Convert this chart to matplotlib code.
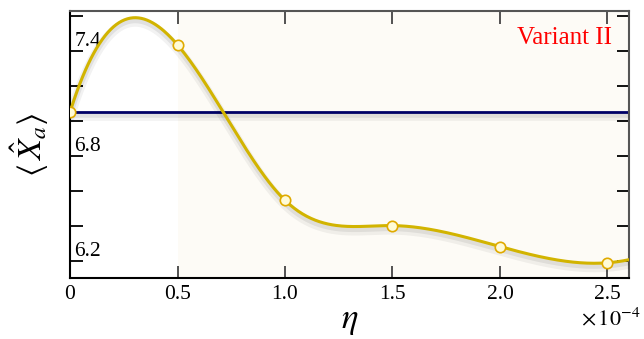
import numpy as np
import matplotlib
matplotlib.use("Agg")
import matplotlib.pyplot as plt
import matplotlib.patheffects as pe
from matplotlib.ticker import FuncFormatter, FixedLocator

# data (eta in units of 1e-4)
eta = np.array([0.0, 0.5, 1.0, 1.5, 2.0, 2.5])
X_a = np.array([7.05, 7.435, 6.545, 6.40, 6.28, 6.187])
reference_level = 7.05
ytick_vals = [6.2, 6.4, 6.6, 6.8, 7.0, 7.2, 7.4, 7.6]
ytick_labeled = [6.2, 6.8, 7.4]
xtick_vals = [0.0, 0.5, 1.0, 1.5, 2.0, 2.5]
scale = 1e-4


def spline(x, y, xs):
    # cubic spline, not-a-knot ends
    n = len(x)
    h = np.diff(x)
    A = np.zeros((n, n))
    b = np.zeros(n)
    for i in range(1, n - 1):
        A[i, i - 1] = h[i - 1]
        A[i, i] = 2 * (h[i - 1] + h[i])
        A[i, i + 1] = h[i]
        b[i] = 6 * ((y[i + 1] - y[i]) / h[i] - (y[i] - y[i - 1]) / h[i - 1])
    A[0, 0], A[0, 1], A[0, 2] = h[1], -(h[0] + h[1]), h[0]
    A[-1, -3], A[-1, -2], A[-1, -1] = h[-1], -(h[-2] + h[-1]), h[-2]
    M = np.linalg.solve(A, b)
    idx = np.clip(np.searchsorted(x, xs) - 1, 0, n - 2)
    t = xs - x[idx]
    hi = h[idx]
    slope = (y[idx + 1] - y[idx]) / hi - hi * (2 * M[idx] + M[idx + 1]) / 6
    return y[idx] + slope * t + M[idx] / 2 * t**2 + (M[idx + 1] - M[idx]) / (6 * hi) * t**3


plt.rcParams['font.family'] = ['Liberation Serif', 'DejaVu Serif']
plt.rcParams['mathtext.fontset'] = 'stix'

fig = plt.figure(figsize=(6.44, 3.39), dpi=100)
ax = fig.add_axes([0.1087, 0.18, 0.868, 0.788])

xmax = 2.6
ax.axvspan(0.5 * scale, xmax * scale, color='#fdfbf6', zorder=0, lw=0)

# soft drop shadow under the lines
shadow = [pe.SimpleLineShadow(offset=(0, -3), alpha=0.05, shadow_color='k', linewidth=7),
          pe.SimpleLineShadow(offset=(0, -2), alpha=0.07, shadow_color='k', linewidth=4),
          pe.Normal()]

ax.axhline(reference_level, color='#000066', lw=2, zorder=2, path_effects=shadow)

xs = np.linspace(0, xmax, 400)
ax.plot(xs * scale, spline(eta, X_a, xs), color='#d2b400', lw=2.2, zorder=3, path_effects=shadow)
ax.plot(eta * scale, X_a, 'o', ms=7.5, mfc='#fffbd6', mec='#e0aa00', mew=1.2, zorder=4)

ax.set_xlim(0, xmax * scale)
ax.set_ylim(6.1, 7.63)

ax.xaxis.set_major_locator(FixedLocator([v * scale for v in xtick_vals]))
fmt = FuncFormatter(lambda v, p: '0' if abs(v) < 1e-12 else '%.1f' % (v / scale))
fmt.set_offset_string(r'$\times\,10^{-4}$')
ax.xaxis.set_major_formatter(fmt)
ax.yaxis.set_major_locator(FixedLocator(ytick_vals))
ax.yaxis.set_major_formatter(FuncFormatter(
    lambda v, p: '%.1f' % v if any(abs(v - t) < 1e-6 for t in ytick_labeled) else ''))

ax.tick_params(axis='both', direction='in', length=9, width=1.3, labelsize=15.5, colors='#444444',
               labelcolor='black', top=True, right=True)
ax.tick_params(axis='y', which='both', left=True, color='black')
ax.tick_params(axis='x', pad=5)
ax.tick_params(axis='y', pad=-3)
for lab in ax.get_yticklabels():
    lab.set_horizontalalignment('left')
    lab.set_verticalalignment('bottom')
off = ax.xaxis.get_offset_text()
off.set_fontsize(16)
off.set_x(1.02)

for side in ['left', 'bottom']:
    ax.spines[side].set_color('black')
    ax.spines[side].set_linewidth(1.5)
for side in ['top', 'right']:
    ax.spines[side].set_color('#555555')
    ax.spines[side].set_linewidth(1.5)

ax.set_xlabel(r'$\eta$', fontsize=25, labelpad=0)
ax.set_ylabel(r'$\langle\,\hat{X}_a\rangle$', fontsize=24, labelpad=14)

ax.text(0.97, 0.9, 'Variant II', color='red', fontsize=18, ha='right', va='center', transform=ax.transAxes)

fig.savefig('out.png', dpi=100)
